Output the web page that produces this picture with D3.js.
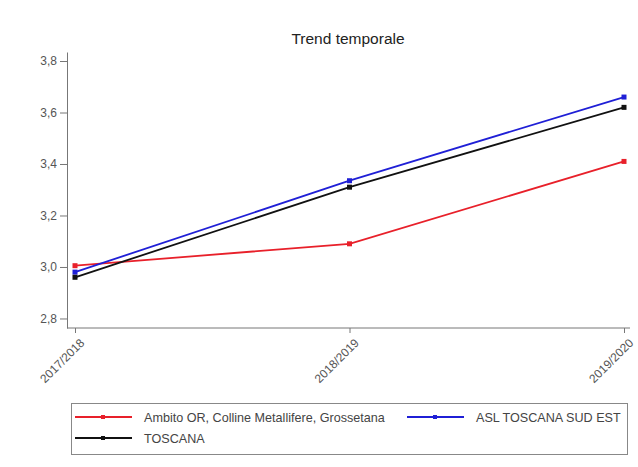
<!DOCTYPE html>
<html><head><meta charset="utf-8">
<script src="https://cdn.jsdelivr.net/npm/d3@7"></script>
<style>body{margin:0;background:#fff}svg{display:block}</style>
</head><body>
<script>
const categories = ["2017/2018", "2018/2019", "2019/2020"];
const seriesNames = ["Ambito OR, Colline Metallifere, Grossetana", "ASL TOSCANA SUD EST", "TOSCANA"];
const redValues = [3.005, 3.09, 3.41];
const blueValues = [2.98, 3.335, 3.66];
const blackValues = [2.96, 3.31, 3.62];
const yTicks = [2.8, 3.0, 3.2, 3.4, 3.6, 3.8];
const colors = ["#e8202a", "#1f1fd6", "#111111"];

const W = 638, H = 467;
const FONT = "Liberation Sans, Arial, sans-serif";
const svg = d3.select("body").append("svg").attr("width", W).attr("height", H);
svg.append("rect").attr("width", W).attr("height", H).attr("fill", "#fff");

const x = d3.scalePoint().domain(categories).range([75, 624]);
const y = d3.scaleLinear().domain([2.763, 3.835]).range([328, 52]);
const axisColor = "#777";

svg.append("text").attr("x", 348).attr("y", 44).attr("text-anchor", "middle")
  .attr("font-family", FONT).attr("font-size", 15.5).attr("fill", "#222")
  .text("Trend temporale");

const fmt = d => d3.format(".1f")(d).replace(".", ",");
const yAxis = svg.append("g").attr("transform", "translate(67,0)")
  .call(d3.axisLeft(y).tickValues(yTicks).tickFormat(fmt).tickSize(7).tickPadding(3).tickSizeOuter(0));
const xAxis = svg.append("g").attr("transform", "translate(0,328)")
  .call(d3.axisBottom(x).tickSize(5).tickSizeOuter(0));
xAxis.select(".domain").attr("d", "M67,0H630");
[yAxis, xAxis].forEach(g => {
  g.selectAll("path,line").attr("stroke", axisColor);
  g.selectAll("text").attr("font-family", FONT).attr("font-size", 12).attr("fill", "#555");
});
xAxis.selectAll("text").attr("text-anchor", "end").attr("dx", 0).attr("dy", 0)
  .attr("transform", "translate(4,10) rotate(-45)");

const allSeries = [redValues, blueValues, blackValues];
const line = d3.line().x((d, i) => x(categories[i])).y(d => y(d));
allSeries.forEach((vals, k) => {
  svg.append("path").attr("d", line(vals)).attr("fill", "none")
    .attr("stroke", colors[k]).attr("stroke-width", 1.8);
  svg.selectAll(null).data(vals).enter().append("rect")
    .attr("x", (d, i) => x(categories[i]) - 2.5).attr("y", d => y(d) - 2.5)
    .attr("width", 5).attr("height", 5).attr("fill", colors[k]);
});

// legend
const lg = svg.append("g");
lg.append("rect").attr("x", 71.5).attr("y", 403.5).attr("width", 556).attr("height", 51)
  .attr("fill", "#fff").attr("stroke", "#888").attr("stroke-width", 1);
const legendPos = [[75, 417], [407, 417], [75, 438]];
seriesNames.forEach((name, k) => {
  const [lx, ly] = legendPos[k];
  lg.append("line").attr("x1", lx).attr("x2", lx + 57).attr("y1", ly).attr("y2", ly)
    .attr("stroke", colors[k]).attr("stroke-width", 2);
  lg.append("rect").attr("x", lx + 26).attr("y", ly - 2).attr("width", 4).attr("height", 4).attr("fill", colors[k]);
  lg.append("text").attr("x", lx + 69).attr("y", ly + 4.5)
    .attr("font-family", FONT).attr("font-size", 12.6).attr("fill", "#444")
    .text(name);
});
</script>
</body></html>
